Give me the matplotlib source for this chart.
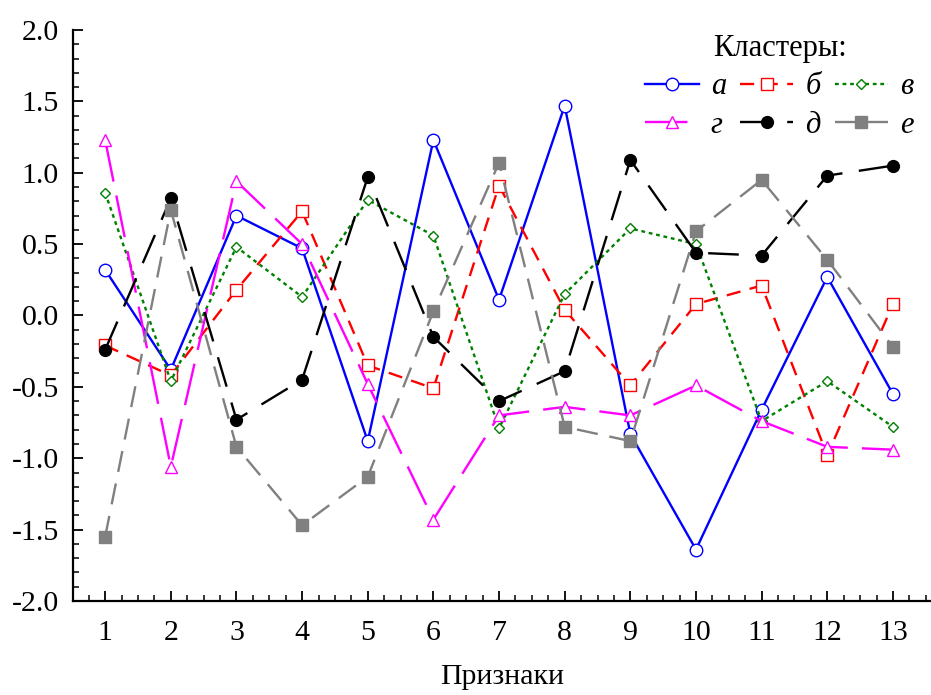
import numpy as np
import matplotlib
matplotlib.use('Agg')
import matplotlib.pyplot as plt
from matplotlib.ticker import MultipleLocator

plt.rcParams['font.family'] = ['Liberation Serif', 'DejaVu Serif']

features = np.arange(1, 14)

a = [0.32, -0.38, 0.70, 0.47, -0.88, 1.23, 0.11, 1.47, -0.83, -1.64, -0.66, 0.27, -0.55]
b = [-0.21, -0.42, 0.18, 0.73, -0.35, -0.51, 0.91, 0.04, -0.49, 0.08, 0.21, -0.98, 0.08]
v = [0.86, -0.46, 0.48, 0.13, 0.81, 0.56, -0.79, 0.15, 0.61, 0.50, -0.74, -0.46, -0.78]
g = [1.23, -1.06, 0.94, 0.50, -0.48, -1.43, -0.70, -0.64, -0.70, -0.49, -0.74, -0.92, -0.94]
d = [-0.24, 0.82, -0.73, -0.45, 0.97, -0.15, -0.60, -0.39, 1.09, 0.44, 0.42, 0.98, 1.05]
e = [-1.55, 0.74, -0.92, -1.47, -1.13, 0.03, 1.07, -0.78, -0.88, 0.59, 0.95, 0.39, -0.22]

labels = ['а', 'б', 'в', 'г', 'д', 'е']

fig = plt.figure(figsize=(9.31, 6.95), dpi=100)
ax = fig.add_axes([0.0784, 0.1353, 0.9216, 0.8215])

lw = 1.7
la, = ax.plot(features, a, color='#0000ff', lw=lw, ls='-', marker='o', ms=9,
              mfc='white', mec='#0000ff', mew=1.0, label=labels[0])
lb, = ax.plot(features, b, color='#ff0000', lw=lw, ls=(0, (6, 4)), marker='s', ms=9,
              mfc='white', mec='#ff0000', mew=1.0, label=labels[1])
lv, = ax.plot(features, v, color='#008000', lw=lw, ls=(0, (1.6, 1.6)), marker='D', ms=5.5,
              mfc='white', mec='#008000', mew=1.0, label=labels[2])
lg, = ax.plot(features, g, color='#ff00ff', lw=lw, ls=(0, (18, 6)), marker='^', ms=8.5,
              mfc='white', mec='#ff00ff', mew=1.0, label=labels[3])
ld, = ax.plot(features, d, color='black', lw=lw, ls=(0, (13, 7)), marker='o', ms=8.5,
              mfc='black', mec='black', label=labels[4])
le, = ax.plot(features, e, color='#808080', lw=lw, ls=(0, (9, 5)), marker='s', ms=8.5,
              mfc='#808080', mec='#808080', label=labels[5])

ax.set_xlim(0.51, 13.58)
ax.set_ylim(-2.0, 2.0)
ax.set_xticks(features)
ax.xaxis.set_minor_locator(MultipleLocator(0.25))
ax.yaxis.set_major_locator(MultipleLocator(0.5))
ax.yaxis.set_minor_locator(MultipleLocator(0.1))
ax.set_yticklabels(['%.1f' % t for t in ax.get_yticks()])

for s in ['top', 'right']:
    ax.spines[s].set_visible(False)
for s in ['left', 'bottom']:
    ax.spines[s].set_linewidth(1.6)

ax.tick_params(which='major', direction='in', length=7, width=1.3, labelsize=21.5)
ax.tick_params(which='minor', direction='in', length=4, width=1.1)
ax.tick_params(axis='y', pad=10)
ax.tick_params(axis='x', pad=14)

ax.set_xlabel('Признаки', fontsize=21.5, labelpad=13)

# legend fills column-wise, so order handles to read row by row
handles = [la, lg, lb, ld, lv, le]
leg = ax.legend(handles=handles, labels=[h.get_label() for h in handles],
                ncol=3, loc='upper right', bbox_to_anchor=(1.005, 1.03),
                frameon=False, title='Кластеры:', title_fontsize=22,
                prop={'size': 22, 'style': 'italic'},
                handlelength=1.75, handletextpad=0.4, columnspacing=0.45,
                labelspacing=0.3, borderpad=0.2)

fig.savefig('out.png', dpi=100)
